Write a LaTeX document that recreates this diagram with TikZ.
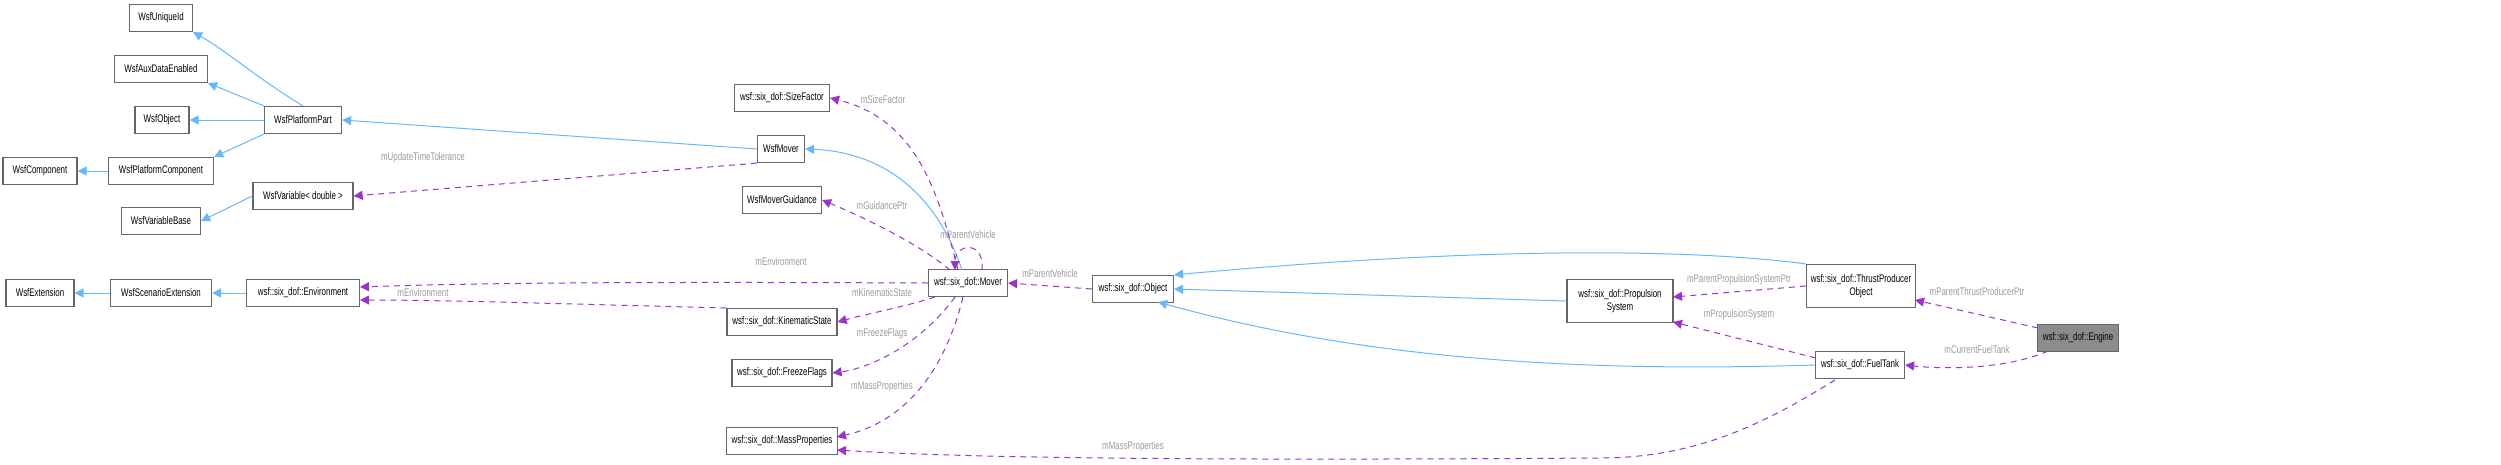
\documentclass[tikz,border=0pt]{standalone}
\usepackage{fontspec}
\setmainfont{Liberation Sans}[FakeStretch=0.72]
\usetikzlibrary{arrows.meta}
\definecolor{inh}{HTML}{63B8FF}
\definecolor{use}{HTML}{9A32CD}
\definecolor{lbl}{HTML}{9A9A9A}
\definecolor{bd}{HTML}{666666}
\begin{document}
\begin{tikzpicture}[x=1pt,y=-1pt,
  box/.style={draw=bd,line width=1.2pt,fill=white,minimum height=27pt,inner sep=0pt,font=\fontsize{11}{12.5}\selectfont,align=center},
  inh/.style={draw=inh,line width=1pt,-{Triangle[length=9pt,width=9pt]}},
  use/.style={draw=use,line width=1pt,dash pattern=on 6pt off 5pt,-{Triangle[length=9pt,width=9pt]}},
  lab/.style={text=lbl,font=\fontsize{11}{12}\selectfont,inner sep=1pt}]
\useasboundingbox (0,0) rectangle (2501,464);
\node[box,minimum width=63] (uid) at (161,18) {WsfUniqueId};
\node[box,minimum width=93] (aux) at (161,69) {WsfAuxDataEnabled};
\node[box,minimum width=54] (wobj) at (162,120) {WsfObject};
\node[box,minimum width=77] (ppart) at (303,120) {WsfPlatformPart};
\node[box,minimum width=74] (comp) at (40,171) {WsfComponent};
\node[box,minimum width=105] (pcomp) at (161,171) {WsfPlatformComponent};
\node[box,minimum width=100] (var) at (303,196) {WsfVariable< double >};
\node[box,minimum width=79] (varb) at (161,221) {WsfVariableBase};
\node[box,minimum width=68] (ext) at (40,293) {WsfExtension};
\node[box,minimum width=101] (sext) at (161,293) {WsfScenarioExtension};
\node[box,minimum width=113] (env) at (303,293) {wsf::six\_dof::Environment};
\node[box,minimum width=95] (size) at (782,98) {wsf::six\_dof::SizeFactor};
\node[box,minimum width=47] (wmov) at (781,149) {WsfMover};
\node[box,minimum width=79] (guid) at (782,200) {WsfMoverGuidance};
\node[box,minimum width=79] (mov) at (968,283) {wsf::six\_dof::Mover};
\node[box,minimum width=110] (kin) at (782,322) {wsf::six\_dof::KinematicState};
\node[box,minimum width=100] (frz) at (782,373) {wsf::six\_dof::FreezeFlags};
\node[box,minimum width=111] (mass) at (782,441) {wsf::six\_dof::MassProperties};
\node[box,minimum width=81] (obj) at (1133,289) {wsf::six\_dof::Object};
\node[box,minimum width=106,minimum height=43] (prop) at (1620,301) {wsf::six\_dof::Propulsion\\System};
\node[box,minimum width=109,minimum height=43] (thr) at (1861,286) {wsf::six\_dof::ThrustProducer\\Object};
\node[box,minimum width=89] (fuel) at (1860,365) {wsf::six\_dof::FuelTank};
\node[box,minimum width=81,fill=black!45] (eng) at (2078,338) {wsf::six\_dof::Engine};
% inheritance
\draw[inh] (ppart.north) .. controls (260,80) and (225,50) .. (uid.south east);
\draw[inh] (ppart.north west) -- (aux.south east);
\draw[inh] (ppart.west) -- (wobj.east);
\draw[inh] (ppart.south west) -- (pcomp.north east);
\draw[inh] (pcomp.west) -- (comp.east);
\draw[inh] (var.west) -- (varb.east);
\draw[inh] (sext.west) -- (ext.east);
\draw[inh] (env.west) -- (sext.east);
\draw[inh] (wmov.west) -- (ppart.east);
\draw[inh] (962,270) .. controls (935,190) and (880,152) .. (wmov.east);
\draw[inh] (thr.north west) .. controls (1700,250) and (1500,245) .. (obj.north east);
\draw[inh] (prop.west) -- (obj.east);
\draw[inh] (fuel.west) .. controls (1650,370) and (1400,370) .. (1158,302);
% usage
\draw[use] (wmov.south west) -- (var.east);
\draw[use] (958,270) .. controls (940,200) and (920,120) .. (size.east);
\draw[use] (950,270) .. controls (920,245) and (870,220) .. (guid.east);
\draw[use] (982,270) .. controls (985,240) and (955,243) .. (955,270);
\draw[use] (mov.west) .. controls (700,282) and (500,282) .. (360,287);
\draw[use] (kin.north west) .. controls (600,305) and (450,300) .. (360,300);
\draw[use] (935,297) .. controls (900,308) and (870,313) .. (kin.east);
\draw[use] (955,297) .. controls (920,345) and (870,368) .. (frz.east);
\draw[use] (963,297) .. controls (940,390) and (890,425) .. (837,437);
\draw[use] (obj.west) -- (mov.east);
\draw[use] (1835,380) .. controls (1770,420) and (1700,458) .. (1600,458) .. controls (1300,460) and (1000,460) .. (837,450);
\draw[use] (thr.west) -- (1673,297);
\draw[use] (1816,358) -- (1673,322);
\draw[use] (2038,328) -- (1915,300);
\draw[use] (2048,351) .. controls (2010,368) and (1950,370) .. (fuel.east);
% labels
\node[lab] at (423,158) {mUpdateTimeTolerance};
\node[lab] at (781,262) {mEnvironment};
\node[lab] at (423,293) {mEnvironment};
\node[lab] at (883,100) {mSizeFactor};
\node[lab] at (882,206) {mGuidancePtr};
\node[lab] at (968,235) {mParentVehicle};
\node[lab] at (882,293) {mKinematicState};
\node[lab] at (882,334) {mFreezeFlags};
\node[lab] at (882,387) {mMassProperties};
\node[lab] at (1050,274) {mParentVehicle};
\node[lab] at (1133,447) {mMassProperties};
\node[lab] at (1739,280) {mParentPropulsionSystemPtr};
\node[lab] at (1739,315) {mPropulsionSystem};
\node[lab] at (1977,292) {mParentThrustProducerPtr};
\node[lab] at (1977,350) {mCurrentFuelTank};
\end{tikzpicture}
\end{document}
